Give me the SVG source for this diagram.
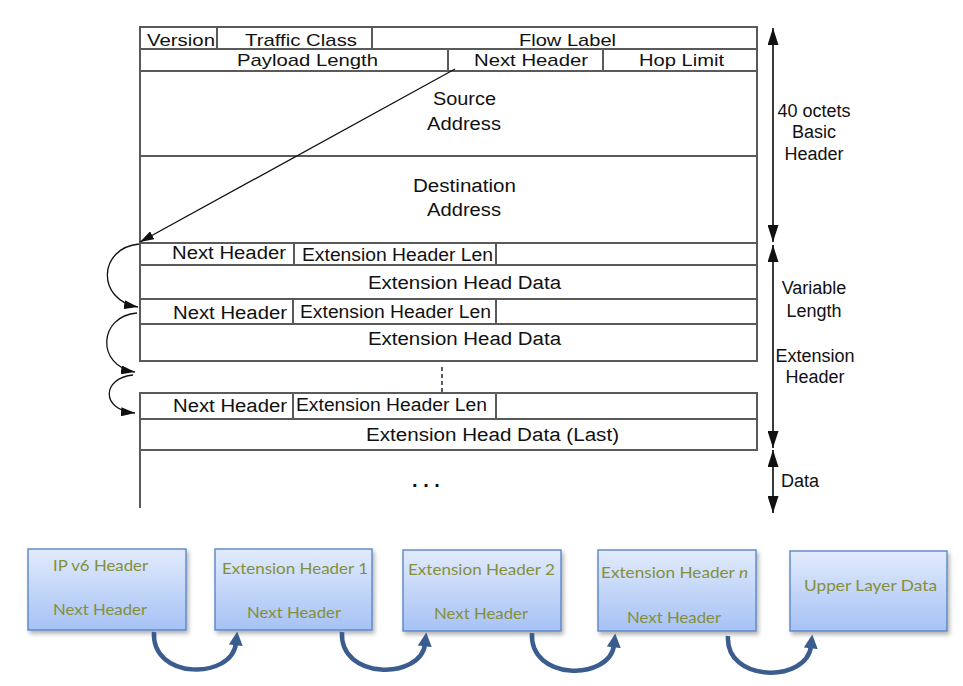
<svg xmlns="http://www.w3.org/2000/svg" width="963" height="686" viewBox="0 0 963 686">
<style>
.ln{stroke:#5a5a5a;stroke-width:2;fill:none}
.bx{stroke:#5a5a5a;stroke-width:2;fill:#fff}
.t{font-family:"Liberation Sans",Arial,sans-serif;font-size:18px;fill:#111}
.t2{font-family:"Liberation Sans",Arial,sans-serif;font-size:17px;fill:#111}
.lbl{font-family:"Liberation Sans",Arial,sans-serif;font-size:18px;fill:#111;text-anchor:middle}
.bt{font-family:Lato,"Open Sans",sans-serif;font-size:16px;fill:#858f3a}
.nb{fill:url(#g);stroke:#5b87c8;stroke-width:1.4;filter:url(#sh)}
.thin{stroke:#111;stroke-width:1.3;fill:none}
.dbl{stroke:#3a3a3a;stroke-width:2;fill:none;marker-start:url(#dh);marker-end:url(#dh)}
.big{stroke:#3b5c8e;stroke-width:4.5;fill:none;marker-end:url(#bh)}
</style>
<defs>
<linearGradient id="g" x1="0" y1="0" x2="0" y2="1">
<stop offset="0" stop-color="#e2ebfc"/>
<stop offset="1" stop-color="#a6c2f5"/>
</linearGradient>
<filter id="sh" x="-10%" y="-10%" width="125%" height="135%">
<feDropShadow dx="2" dy="3" stdDeviation="2" flood-color="#000" flood-opacity="0.3"/>
</filter>
<marker id="dh" viewBox="0 0 17 11" refX="17" refY="5.5" markerWidth="17" markerHeight="11" markerUnits="userSpaceOnUse" orient="auto-start-reverse">
<path d="M0,0 L17,5.5 L0,11 z" fill="#111"/>
</marker>
<marker id="sa" viewBox="0 0 14 9" refX="14" refY="4.5" markerWidth="14" markerHeight="9" markerUnits="userSpaceOnUse" orient="auto">
<path d="M0,0 L14,4.5 L0,9 z" fill="#111"/>
</marker>
<marker id="bh" viewBox="0 0 12 12" refX="2" refY="6" markerWidth="14" markerHeight="14" markerUnits="userSpaceOnUse" orient="auto">
<path d="M0,0 L12,6 L0,12 z" fill="#3b5c8e"/>
</marker>
</defs>
<rect width="963" height="686" fill="#fff"/>

<g id="basic-header">
<rect class="bx" x="140" y="27" width="617" height="216"/>
<path class="ln" d="M140,49 H757 M140,71 H757 M140,156 H757 M217,27 V49 M372,27 V49 M448,49 V71 M603,49 V71"/>
<text class="t2" x="147" y="46" textLength="68" lengthAdjust="spacingAndGlyphs">Version</text>
<text class="t2" x="245" y="46" textLength="112" lengthAdjust="spacingAndGlyphs">Traffic Class</text>
<text class="t2" x="519" y="46" textLength="97" lengthAdjust="spacingAndGlyphs">Flow Label</text>
<text class="t2" x="237" y="65.5" textLength="141" lengthAdjust="spacingAndGlyphs">Payload Length</text>
<text class="t2" x="474" y="65.5" textLength="114" lengthAdjust="spacingAndGlyphs">Next Header</text>
<text class="t2" x="639" y="65.5" textLength="85" lengthAdjust="spacingAndGlyphs">Hop Limit</text>
<text class="t" x="433" y="105" textLength="63" lengthAdjust="spacingAndGlyphs">Source</text>
<text class="t" x="427" y="130" textLength="74" lengthAdjust="spacingAndGlyphs">Address</text>
<text class="t" x="413" y="192" textLength="103" lengthAdjust="spacingAndGlyphs">Destination</text>
<text class="t" x="427" y="216" textLength="74" lengthAdjust="spacingAndGlyphs">Address</text>
</g>

<g id="ext-header-1">
<rect class="bx" x="140" y="243" width="617" height="56"/>
<path class="ln" d="M140,265 H757 M294,243 V265 M496,243 V265"/>
<text class="t" x="172" y="259" textLength="114" lengthAdjust="spacingAndGlyphs">Next Header</text>
<text class="t" x="302" y="261" textLength="191" lengthAdjust="spacingAndGlyphs">Extension Header Len</text>
<text class="t" x="368" y="289" textLength="193" lengthAdjust="spacingAndGlyphs">Extension Head Data</text>
</g>

<g id="ext-header-2">
<rect class="bx" x="140" y="299" width="617" height="62"/>
<path class="ln" d="M140,324 H757 M293,299 V324 M496,299 V324"/>
<text class="t" x="173" y="319" textLength="114" lengthAdjust="spacingAndGlyphs">Next Header</text>
<text class="t" x="300" y="318" textLength="191" lengthAdjust="spacingAndGlyphs">Extension Header Len</text>
<text class="t" x="368" y="345" textLength="193" lengthAdjust="spacingAndGlyphs">Extension Head Data</text>
</g>

<g id="ellipsis-vertical">
<path d="M442,367 V393" stroke="#5a5a5a" stroke-width="2" stroke-dasharray="4,3"/>
</g>

<g id="ext-header-last">
<rect class="bx" x="140" y="393" width="617" height="57"/>
<path class="ln" d="M140,419 H757 M293,393 V419 M496,393 V419"/>
<text class="t" x="173" y="412" textLength="114" lengthAdjust="spacingAndGlyphs">Next Header</text>
<text class="t" x="296" y="411" textLength="191" lengthAdjust="spacingAndGlyphs">Extension Header Len</text>
<text class="t" x="366" y="441" textLength="253" lengthAdjust="spacingAndGlyphs">Extension Head Data (Last)</text>
</g>

<g id="data-region">
<path class="ln" d="M140,450 H757 M140,450 V508"/>
<text x="426" y="487" font-family="Liberation Sans,Arial,sans-serif" font-size="20" font-weight="bold" text-anchor="middle" fill="#111">. . .</text>
</g>

<g id="side-labels">
<text class="lbl" x="814" y="117">40 octets</text>
<text class="lbl" x="814" y="138">Basic</text>
<text class="lbl" x="814" y="160">Header</text>
<text class="lbl" x="814" y="294">Variable</text>
<text class="lbl" x="814" y="317">Length</text>
<text class="lbl" x="815" y="362">Extension</text>
<text class="lbl" x="815" y="383">Header</text>
<text class="lbl" x="800" y="487">Data</text>
</g>

<g id="node-ipv6">
<rect class="nb" x="28" y="549" width="158" height="81"/>
<text class="bt" x="53" y="571" textLength="95" lengthAdjust="spacingAndGlyphs">IP v6 Header</text>
<text class="bt" x="53" y="615" textLength="94" lengthAdjust="spacingAndGlyphs">Next Header</text>
</g>
<g id="node-ext1">
<rect class="nb" x="215" y="549" width="157" height="81"/>
<text class="bt" x="222" y="574" textLength="146" lengthAdjust="spacingAndGlyphs">Extension Header 1</text>
<text class="bt" x="247" y="618" textLength="94" lengthAdjust="spacingAndGlyphs">Next Header</text>
</g>
<g id="node-ext2">
<rect class="nb" x="403" y="550" width="158" height="81"/>
<text class="bt" x="408" y="575" textLength="147" lengthAdjust="spacingAndGlyphs">Extension Header 2</text>
<text class="bt" x="434" y="619" textLength="94" lengthAdjust="spacingAndGlyphs">Next Header</text>
</g>
<g id="node-extn">
<rect class="nb" x="598" y="550" width="158" height="81"/>
<text class="bt" x="601" y="578" textLength="147" lengthAdjust="spacingAndGlyphs">Extension Header <tspan font-style="italic">n</tspan></text>
<text class="bt" x="627" y="623" textLength="94" lengthAdjust="spacingAndGlyphs">Next Header</text>
</g>
<g id="node-upper">
<rect class="nb" x="790" y="551" width="157" height="80"/>
<text class="bt" x="804" y="591" textLength="133" lengthAdjust="spacingAndGlyphs">Upper Layer Data</text>
</g>

<g id="connectors">
<path class="dbl" d="M773,28 V242"/>
<path class="dbl" d="M773,245 V448"/>
<path class="dbl" d="M773,450 V513"/>
<path class="thin" marker-end="url(#sa)" d="M455,69 L140,242"/>
<path class="thin" marker-end="url(#sa)" d="M139,244 C 98,248 96,300 138,307"/>
<path class="thin" marker-end="url(#sa)" d="M137,313 C 98,316 96,366 135,372"/>
<path class="thin" marker-end="url(#sa)" d="M133,375 C 102,378 100,410 135,413"/>
<path class="big" d="M154,632 C 151,680 232,680 236,643"/>
<path class="big" d="M342,632 C 339,680 421,680 425,644"/>
<path class="big" d="M532,633 C 529,681 610,681 614,645"/>
<path class="big" d="M728,636 C 725,683 807,683 811,646"/>
</g>
</svg>
